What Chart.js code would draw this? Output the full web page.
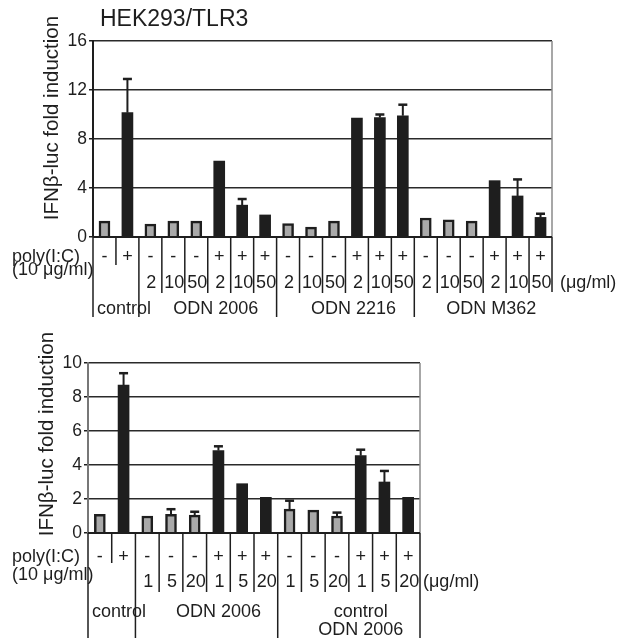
<!DOCTYPE html>
<html><head><meta charset="utf-8">
<script src="https://cdn.jsdelivr.net/npm/chart.js@4.4.0/dist/chart.umd.min.js"></script>
<style>
html,body{margin:0;padding:0;background:#fff;width:619px;height:638px;overflow:hidden}
canvas{position:absolute;left:0}
</style></head><body>
<canvas id="c1" style="top:0px"></canvas>
<canvas id="c2" style="top:330px"></canvas>
<script>
// ---- Top panel (HEK293/TLR3) ----
const topPoly   = ['-','+','-','-','-','+','+','+','-','-','-','+','+','+','-','-','-','+','+','+'];
const topDose   = ['','','2','10','50','2','10','50','2','10','50','2','10','50','2','10','50','2','10','50'];
const topValues = [1.3,10.15,1.05,1.3,1.3,6.2,2.6,1.8,1.1,0.8,1.3,9.7,9.75,9.9,1.55,1.4,1.3,4.6,3.35,1.6];
const topErrTop = [null,12.9,null,null,null,null,3.1,null,null,null,null,null,10.0,10.8,null,null,null,null,4.7,1.9];
const topGroups = ['control','ODN 2006','ODN 2216','ODN M362'];
const topGroupSizes = [2,6,6,6];
const topTicks = [0,4,8,12,16];

// ---- Bottom panel ----
const botPoly   = ['-','+','-','-','-','+','+','+','-','-','-','+','+','+'];
const botDose   = ['','','1','5','20','1','5','20','1','5','20','1','5','20'];
const botValues = [1.1,8.7,1.0,1.1,1.05,4.85,2.9,2.1,1.4,1.35,1.0,4.55,3.0,2.1];
const botErrTop = [null,9.4,null,1.4,1.25,5.1,null,null,1.9,null,1.2,4.9,3.65,null];
const botGroups = ['control','ODN 2006','control\nODN 2006'];
const botGroupSizes = [2,6,6];
const botTicks = [0,2,4,6,8,10];

const FONT = '"Liberation Sans", Arial, Helvetica, sans-serif';
const INK = '#1e1e1e';

function makePanel(id, W, H, p) {
  const cv = document.getElementById(id);
  cv.width = W; cv.height = H;
  const n = p.values.length;
  const groupOf = [];
  p.groupSizes.forEach((s, g) => { for (let k = 0; k < s; k++) groupOf.push(g); });
  const labels = p.values.map((_, i) => p.groups[groupOf[i]].replace('\n',' ') + ' ' + p.dose[i] + ' ' + p.poly[i]);
  const fill = p.poly.map(s => s === '+' ? INK : '#a9a9a9');

  const deco = {
    id: 'deco',
    afterDraw(chart) {
      const ctx = chart.ctx, ca = chart.chartArea;
      const xs = chart.scales.x, ys = chart.scales.y;
      ctx.save();
      ctx.strokeStyle = '#8a8a8a'; ctx.lineWidth = 1.5;
      ctx.beginPath(); ctx.moveTo(ca.right, ca.top); ctx.lineTo(ca.right, ca.bottom); ctx.stroke();
      ctx.strokeStyle = INK; ctx.lineWidth = 2;
      p.errTop.forEach((e, i) => {
        if (e == null) return;
        const x = xs.getPixelForValue(i);
        const y0 = ys.getPixelForValue(p.values[i]);
        const y1 = ys.getPixelForValue(e);
        ctx.beginPath(); ctx.moveTo(x, y0); ctx.lineTo(x, y1); ctx.stroke();
        ctx.lineWidth = 2.5;
        ctx.beginPath(); ctx.moveTo(x - 4.5, y1); ctx.lineTo(x + 4.5, y1); ctx.stroke();
        ctx.lineWidth = 2;
      });
      ctx.lineWidth = 2;
      ctx.beginPath(); ctx.moveTo(ca.left, ca.bottom); ctx.lineTo(ca.right, ca.bottom); ctx.stroke();
      ctx.lineWidth = 1.5;
      const gStart = [0];
      p.groupSizes.forEach((s, g) => gStart.push(gStart[g] + s));
      for (let b = 0; b <= n; b++) {
        const x = xs.getPixelForValue(b - 0.5);
        let yb;
        if (b === 0) yb = p.L.outerL;
        else if (b === n) yb = p.L.outerR;
        else if (gStart.includes(b)) yb = p.L.group;
        else if (groupOf[b] === 0) yb = p.L.ctrl;
        else yb = p.L.inner;
        ctx.beginPath(); ctx.moveTo(x, ca.bottom); ctx.lineTo(x, yb); ctx.stroke();
      }
      ctx.fillStyle = INK;
      ctx.font = '18px ' + FONT;
      ctx.textBaseline = 'middle';
      ctx.textAlign = 'center';
      for (let i = 0; i < n; i++) {
        const x = xs.getPixelForValue(i);
        ctx.fillText(p.poly[i], x, p.T.sign);
        if (p.dose[i]) ctx.fillText(p.dose[i], x + 1, p.T.dose);
      }
      p.groups.forEach((g, gi) => {
        const lines = g.split('\n');
        const xl = xs.getPixelForValue(gStart[gi] - 0.5);
        const xr = xs.getPixelForValue(gStart[gi + 1] - 0.5);
        lines.forEach((ln, li) => {
          const y = p.T.group + li * 18;
          if (gi === 0) { ctx.textAlign = 'left'; ctx.fillText(ln, xl + 4, y); }
          else { ctx.textAlign = 'center'; ctx.fillText(ln, (xl + xr) / 2 + p.T.gOff, y); }
        });
      });
      ctx.textAlign = 'left';
      ctx.fillText('poly(I:C)', 12, p.T.sign);
      ctx.fillText('(10 \u03bcg/ml)', 12, p.T.unit);
      ctx.fillText('(\u03bcg/ml)', p.T.unitsX, p.T.dose);
      if (p.title) {
        ctx.font = '23px ' + FONT;
        ctx.fillText(p.title, 100, 20);
      }
      ctx.save();
      ctx.translate(p.yTitle.x, p.yTitle.y);
      ctx.rotate(-Math.PI / 2);
      ctx.textAlign = 'center';
      ctx.font = '20.5px ' + FONT;
      ctx.fillText('IFN\u03b2-luc fold induction', 0, 0);
      ctx.restore();
      ctx.restore();
    }
  };

  return new Chart(cv, {
    type: 'bar',
    data: {
      labels,
      datasets: [{
        data: p.values,
        backgroundColor: fill,
        borderColor: INK,
        borderWidth: p.poly.map(s => s === '+' ? 0 : 2.5),
        barThickness: 11,
        borderSkipped: 'bottom'
      }]
    },
    options: {
      responsive: false,
      animation: false,
      devicePixelRatio: 1,
      layout: { padding: { left: 0, top: p.pad.top, right: p.pad.right, bottom: 0 } },
      plugins: { legend: { display: false }, tooltip: { enabled: false }, title: { display: false } },
      scales: {
        x: {
          display: true,
          grid: { display: false },
          border: { display: false },
          ticks: { display: false },
          afterFit(s) { s.height = p.pad.xh; }
        },
        y: {
          min: 0, max: p.ticks[p.ticks.length - 1],
          afterBuildTicks(s) { s.ticks = p.ticks.map(v => ({ value: v })); },
          grid: { color: '#2a2a2a', lineWidth: 1.5, tickLength: 4, tickColor: INK },
          border: { display: true, color: p.axisColor, width: 2 },
          ticks: { color: INK, font: { family: FONT, size: 17.5 }, padding: 2 },
          afterFit(s) { s.width = p.pad.left; }
        }
      }
    },
    plugins: [deco]
  });
}

makePanel('c1', 619, 330, {
  poly: topPoly, dose: topDose, values: topValues, errTop: topErrTop,
  groups: topGroups, groupSizes: topGroupSizes, ticks: topTicks,
  title: 'HEK293/TLR3', yTitle: { x: 52, y: 118 }, axisColor: '#1e1e1e',
  pad: { top: 41, right: 67, left: 93, xh: 93 },
  L: { outerL: 317, outerR: 292, group: 317, ctrl: 265, inner: 293 },
  T: { sign: 257, unit: 270, dose: 283, group: 309, gOff: 8, unitsX: 560 }
});

makePanel('c2', 619, 308, {
  poly: botPoly, dose: botDose, values: botValues, errTop: botErrTop,
  groups: botGroups, groupSizes: botGroupSizes, ticks: botTicks,
  title: null, yTitle: { x: 47, y: 104 }, axisColor: '#777',
  pad: { top: 33, right: 199, left: 88, xh: 105 },
  L: { outerL: 308, outerR: 308, group: 308, ctrl: 233, inner: 262 },
  T: { sign: 227, unit: 245, dose: 252, group: 282, gOff: 12, unitsX: 423 }
});
</script>
</body></html>
